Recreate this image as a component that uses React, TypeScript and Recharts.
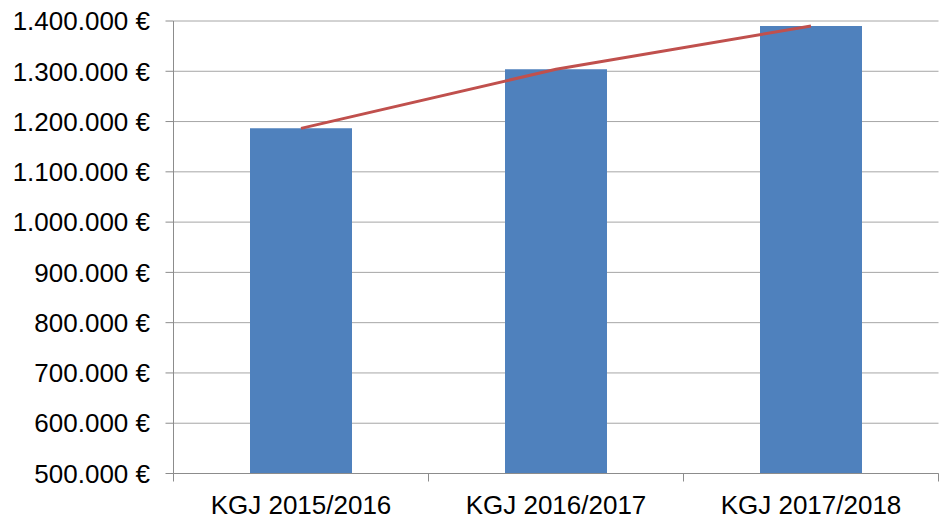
import React from "react";
import { ComposedChart, Bar, Line, XAxis, YAxis, CartesianGrid } from "recharts";

const categories = ["KGJ 2015/2016", "KGJ 2016/2017", "KGJ 2017/2018"];
const barValues = [1186500, 1304000, 1390000];
const lineValues = [1186500, 1304000, 1390000];
const yTicks = [500000, 600000, 700000, 800000, 900000, 1000000, 1100000, 1200000, 1300000, 1400000];

const data = categories.map((c, i) => ({ name: c, value: barValues[i], trend: lineValues[i] }));

const W = 940;
const H = 519;
const MARGIN = { top: 21, right: 1.5, bottom: 0, left: 0 };
const Y_AXIS_W = 173.5;
const X_AXIS_H = 45.5;
const PLOT_W = W - MARGIN.left - MARGIN.right - Y_AXIS_W;
const FONT = "'Liberation Sans', Arial, sans-serif";

const fmt = (v: number) => String(v).replace(/\B(?=(\d{3})+(?!\d))/g, ".") + " €";

const XTick = (props: any) => {
  const { x, y, payload, index, visibleTicksCount } = props;
  const n = visibleTicksCount || categories.length;
  const bw = PLOT_W / n;
  const left = x - bw / 2;
  return (
    <g>
      <line x1={left} y1={y} x2={left} y2={y + 8} stroke="#8C8C8C" strokeWidth={1} />
      {index === n - 1 && (
        <line x1={x + bw / 2} y1={y} x2={x + bw / 2} y2={y + 8} stroke="#8C8C8C" strokeWidth={1} />
      )}
      <text x={x} y={y + 40} textAnchor="middle" fill="#000" fontSize={26} fontFamily={FONT}>
        {payload.value}
      </text>
    </g>
  );
};

export default function App() {
  return (
    <div style={{ position: "absolute", left: 0, top: 0, width: W, height: H, background: "#fff" }}>
      <ComposedChart width={W} height={H} data={data} margin={MARGIN} barCategoryGap="30%" style={{ fontFamily: FONT }}>
        <CartesianGrid vertical={false} stroke="#A6A6A6" strokeWidth={1} />
        <XAxis
          dataKey="name"
          height={X_AXIS_H}
          axisLine={{ stroke: "#8C8C8C" }}
          tickLine={false}
          tickSize={0}
          tickMargin={0}
          tick={<XTick />}
          interval={0}
        />
        <YAxis
          width={Y_AXIS_W}
          domain={[500000, 1400000]}
          ticks={yTicks}
          allowDataOverflow
          axisLine={{ stroke: "#8C8C8C" }}
          tickLine={{ stroke: "#8C8C8C" }}
          tickSize={8}
          tickMargin={15.5}
          tickFormatter={fmt}
          tick={{ fill: "#000", fontSize: 26, fontFamily: FONT }}
          interval={0}
        />
        <Bar dataKey="value" fill="#4F81BD" isAnimationActive={false} />
        <Line
          dataKey="trend"
          type="linear"
          stroke="#C0504D"
          strokeWidth={3}
          dot={false}
          activeDot={false}
          isAnimationActive={false}
        />
      </ComposedChart>
    </div>
  );
}
